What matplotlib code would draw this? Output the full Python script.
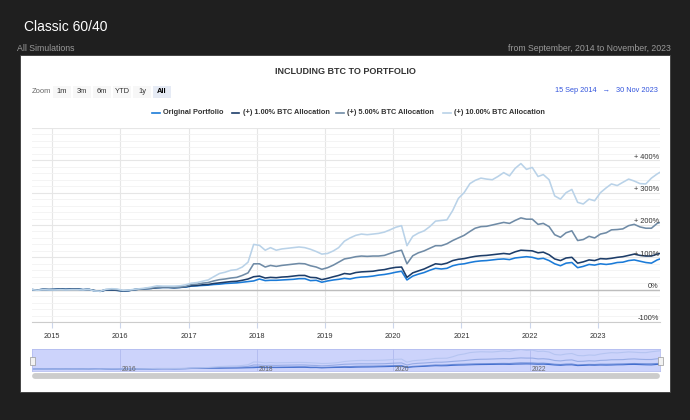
import numpy as np
import pandas as pd
import matplotlib
matplotlib.use('Agg')
import matplotlib.pyplot as plt
import matplotlib.dates as mdates
from matplotlib.patches import Rectangle
from matplotlib.lines import Line2D

plt.rcParams['font.family'] = ['Liberation Sans', 'DejaVu Sans']

# monthly points (15th of each month) from Sep 2014, plus the last day
dates = list(pd.date_range('2014-09-01', '2023-11-01', freq='MS') + pd.Timedelta(days=14)) \
        + [pd.Timestamp('2023-11-30')]

original = [0, -1, 1, 0,
            1, 2, 1, 2, 2, 0, 1, -3, -5, -1, -1, -2,
            -4, -3, 0, 2, 3, 4, 6, 7, 7, 6, 7, 8,
            11, 12, 13, 14, 16, 17, 19, 20, 21, 23, 25, 27,
            33, 28, 29, 29, 30, 31, 32, 34, 34, 28, 29, 23,
            27, 30, 32, 35, 33, 37, 39, 40, 42, 45, 47, 50,
            54, 57, 30, 42, 48, 53, 60, 66, 64, 66, 74, 78,
            80, 84, 87, 89, 90, 92, 94, 95, 93, 98, 100, 102,
            100, 95, 97, 90, 80, 74, 82, 84, 68, 72, 78, 76,
            80, 78, 80, 84, 85, 90, 92, 88, 84, 82, 92, 95]
btc_1 = [0, -1, 1, 0,
         1, 2, 1, 2, 2, 0, 1, -3, -5, -1, -1, -2,
         -4, -3, 0, 2, 3, 4, 6, 7, 7, 6, 7, 9,
         12, 13, 15, 16, 19, 21, 23, 25, 26, 29, 33, 40,
         42, 36, 38, 37, 39, 40, 42, 44, 44, 38, 37, 31,
         35, 40, 44, 50, 48, 53, 55, 56, 57, 60, 62, 66,
         69, 70, 38, 52, 58, 64, 72, 80, 78, 82, 90, 94,
         96, 100, 103, 105, 106, 108, 110, 112, 110, 117, 122, 121,
         120, 114, 116, 108, 95, 90, 98, 100, 82, 86, 92, 90,
         96, 95, 97, 100, 102, 106, 110, 106, 104, 104, 110, 112]
btc_5 = [0, -1, 1, 1,
         0, 1, 0, 1, 1, -1, 1, -3, -5, 0, 1, 0,
         -3, -2, 0, 2, 3, 5, 7, 8, 8, 7, 8, 10,
         16, 17, 20, 22, 27, 31, 33, 36, 38, 44, 52, 80,
         80, 70, 75, 72, 75, 77, 79, 81, 80, 74, 70, 63,
         68, 76, 85, 95, 98, 102, 104, 103, 104, 104, 106, 112,
         118, 122, 80, 105, 114, 120, 128, 136, 136, 142, 152, 160,
         168, 180, 190, 195, 196, 200, 204, 208, 205, 214, 222, 218,
         218, 202, 205, 195, 170, 162, 176, 182, 152, 155, 165, 160,
         172, 176, 185, 186, 188, 198, 202, 194, 190, 190, 205, 208]
btc_10 = [0, -2, 0, -1,
          -1, 0, -1, 0, 0, -1, 1, -4, -5, 1, 3, 2,
          -2, -1, 1, 3, 5, 8, 12, 11, 11, 11, 12, 15,
          20, 22, 26, 30, 40, 50, 54, 60, 62, 70, 85, 140,
          137, 122, 130, 122, 126, 128, 130, 132, 130, 125, 118, 110,
          112, 120, 130, 150, 160, 168, 172, 170, 172, 174, 178, 185,
          193, 198, 136, 165, 175, 182, 195, 212, 214, 216, 245, 282,
          300, 328, 338, 345, 342, 340, 350, 362, 352, 375, 390, 372,
          378, 350, 356, 340, 290, 280, 300, 310, 270, 265, 280, 275,
          300, 315, 327, 322, 332, 342, 336, 328, 327, 345, 358, 363]

names = ['Original Portfolio', '(+) 1.00% BTC Allocation',
         '(+) 5.00% BTC Allocation', '(+) 10.00% BTC Allocation']
series = [original, btc_1, btc_5, btc_10]
colors = ['#1b7bd8', '#1d3d69', '#6f8ba6', '#b9d2e8']
ylabels = {400: '+ 400%', 300: '+ 300%', 200: '+ 200%', 100: '+ 100%', 0: '0%', -100: '-100%'}
zoom_buttons = ['1m', '3m', '6m', 'YTD', '1y', 'All']

W, H = 690, 420
def fx(x): return x / W
def fy(y): return 1 - y / H

fig = plt.figure(figsize=(6.9, 4.2), dpi=100, facecolor='#1f1f1f')

# page header
fig.text(fx(24), fy(27), 'Classic 60/40', color='white', fontsize=10, va='center')
fig.text(fx(17), fy(48.5), 'All Simulations', color='#9a9a9a', fontsize=6.3, va='center')
fig.text(fx(671), fy(48.5), 'from September, 2014 to November, 2023', color='#9a9a9a',
         fontsize=6.3, va='center', ha='right')

# white card
fig.add_artist(Rectangle((fx(20), fy(392)), 650 / W, 337 / H, transform=fig.transFigure,
                         facecolor='white', edgecolor='#3a3a3a', lw=0.6, zorder=0))

fig.text(fx(345.5), fy(71), 'INCLUDING BTC TO PORTFOLIO', color='#333333', fontsize=6.5,
         fontweight='bold', ha='center', va='center')

# range selector
fig.text(fx(32), fy(91.5), 'Zoom', color='#666666', fontsize=5.4, va='center')
bx = 53
for b in zoom_buttons:
    sel = b == 'All'
    fig.add_artist(Rectangle((fx(bx), fy(97.5)), 18 / W, 12 / H, transform=fig.transFigure,
                             facecolor='#e6ebf5' if sel else '#f7f7f7', edgecolor='none'))
    fig.text(fx(bx + 9), fy(91.5), b, color='#000000' if sel else '#333333', fontsize=5.4,
             fontweight='bold' if sel else 'normal', ha='center', va='center')
    bx += 20
fig.text(fx(658), fy(91), '15 Sep 2014   \u2192   30 Nov 2023', color='#3355dd', fontsize=5.3,
         ha='right', va='center')

# legend
leg_x = [152, 232, 336, 443]
for lx, name, c in zip(leg_x, names, colors):
    fig.add_artist(Line2D([fx(lx), fx(lx + 7.5)], [fy(113), fy(113)], transform=fig.transFigure,
                          color=c, lw=1.2))
    fig.text(fx(lx + 11), fy(113), name, color='#333333', fontsize=5.3, fontweight='bold',
             va='center')

# main chart
ax = fig.add_axes([fx(32), fy(322), 628 / W, 194 / H])
ax.set_facecolor('white')
for s, c in zip(series, colors):
    ax.plot(dates, s, color=c, lw=1.15)
ax.axhline(0, color='#bdbdbd', lw=1.0, zorder=1)
ax.set_xlim(dates[0], dates[-1])
ax.set_ylim(-100, 500)
ax.set_yticks(range(-100, 501, 100))
ax.set_yticks(range(-100, 501, 20), minor=True)
ax.grid(axis='y', which='major', color='#e6e6e6', lw=0.8)
ax.grid(axis='y', which='minor', color='#f2f2f2', lw=0.6)
ax.xaxis.set_major_locator(mdates.YearLocator())
ax.xaxis.set_major_formatter(mdates.DateFormatter('%Y'))
ax.grid(axis='x', color='#e6e6e6', lw=0.8)
ax.set_axisbelow(True)
ax.tick_params(axis='y', which='both', left=False, labelleft=False)
ax.tick_params(axis='x', colors='#ccd6eb', labelcolor='#333333', labelsize=5.3, length=4, pad=4)
for sp in ['top', 'left', 'right']:
    ax.spines[sp].set_visible(False)
ax.spines['bottom'].set_color('#cccccc')
for v, lab in ylabels.items():
    ax.text(0.998, v + 10, lab, transform=ax.get_yaxis_transform(), ha='right', va='center',
            fontsize=5.3, color='#333333')

# navigator
nav = fig.add_axes([fx(32), fy(371), 628 / W, 22 / H])
nav.set_facecolor('#ccd3fb')
for s, c, a in zip(series, ['#3f6ccf', '#5a7fd0', '#8aa2e0', '#b3c3f0'], [1, 0.8, 0.8, 0.9]):
    nav.plot(dates, s, color=c, lw=0.8, alpha=a)
nav.set_xlim(dates[0], dates[-1])
nav.set_ylim(-40, 400)
nav.xaxis.set_major_locator(mdates.YearLocator(2))
nav.grid(axis='x', color='#b4bdf0', lw=0.7)
nav.set_yticks([])
nav.tick_params(axis='x', length=0, labelbottom=False)
for sp in nav.spines.values():
    sp.set_color('#b4bdf0')
    sp.set_linewidth(0.6)
for yr in [2016, 2018, 2020, 2022]:
    nav.text(pd.Timestamp(f'{yr}-01-01') + pd.Timedelta(days=10), -8, str(yr), fontsize=4.8,
             color='#666666', va='center', ha='left')
for hx in [32, 660]:
    fig.add_artist(Rectangle((fx(hx - 2.5), fy(364.5)), 5 / W, 8 / H, transform=fig.transFigure,
                             facecolor='#f2f2f2', edgecolor='#999999', lw=0.5))
fig.add_artist(Line2D([fx(35), fx(657)], [fy(375.7), fy(375.7)], transform=fig.transFigure,
                      color='#cccccc', lw=4.2, solid_capstyle='round'))

fig.savefig('out.png', dpi=100, facecolor=fig.get_facecolor())
